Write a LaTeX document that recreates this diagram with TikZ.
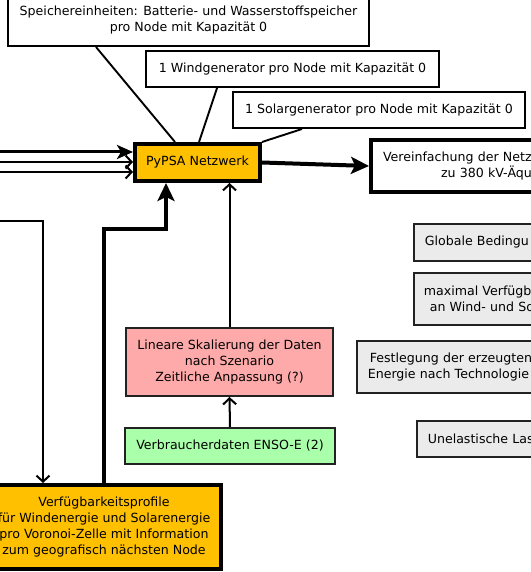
\documentclass[tikz,border=0pt]{standalone}
\usepackage{fontspec}
\setmainfont{DejaVu Sans}
\usetikzlibrary{arrows.meta}
\definecolor{gold}{HTML}{FFC000}
\definecolor{pinkfill}{HTML}{FFAAAA}
\definecolor{greenfill}{HTML}{AAFFAA}
\definecolor{grayfill}{HTML}{EBEBEB}
\definecolor{bordergray}{HTML}{222222}
\begin{document}
\begin{tikzpicture}[x=1pt,y=-1pt,
  font=\fontsize{12.6}{16}\selectfont,
  box/.style={draw=black, line width=1.8pt, inner sep=0pt, align=center, fill=white},
  thickbox/.style={draw=black, line width=4pt, inner sep=0pt, align=center},
  graybox/.style={draw=bordergray, line width=1.8pt, fill=grayfill, inner ysep=0pt, anchor=west, text width=260pt, align=left},
  thinline/.style={line width=1.9pt},
  thinarrow/.style={line width=2pt, -{Straight Barb[length=6pt,width=13pt,line width=2pt]}},
  fatarrow/.style={line width=4pt, -{Stealth[length=18pt,width=17pt,inset=4pt]}},
  medarrow/.style={line width=3pt, -{Stealth[length=16pt,width=14pt,inset=4pt]}}
]
\useasboundingbox (0,0) rectangle (530,572);

% top boxes
\node[box, minimum width=361.2pt, minimum height=51.2pt] (spei) at (188.5,20.5)
  {Speichereinheiten: Batterie- und Wasserstoffspeicher\\pro Node mit Kapazität 0};
\node[box, minimum width=293.2pt, minimum height=36.2pt] (wind) at (292.5,69)
  {1 Windgenerator pro Node mit Kapazität 0};
\node[box, minimum width=292.2pt, minimum height=36.2pt] (solar) at (379,110)
  {1 Solargenerator pro Node mit Kapazität 0};

% central node
\node[thickbox, fill=gold, minimum width=125pt, minimum height=37pt] (py) at (197.5,162.5)
  {PyPSA Netzwerk};

% right, cropped boxes
\node[thickbox, fill=white, anchor=west, minimum height=52pt, inner xsep=12pt, text width=260pt, align=left] (ver) at (369,166)
  {Vereinfachung der Netz\\\hspace*{58pt}zu 380 kV-Äqu};
\node[graybox, minimum height=37.2pt, inner xsep=11pt] (glob) at (412.9,242.5)
  {Globale Bedingu};
\node[graybox, minimum height=52.2pt, inner xsep=10pt] (maxv) at (412.9,299)
  {maximal Verfügb\\\hspace*{6pt}an Wind- und So};
\node[graybox, minimum height=52.2pt, inner xsep=13pt] (fest) at (355.9,367)
  {Festlegung der erzeugten\\\hspace*{-2pt}Energie nach Technologie};
\node[graybox, minimum height=36.2pt, inner xsep=11pt] (unel) at (415.9,439)
  {Unelastische Las};

% lower middle boxes
\node[draw=bordergray, line width=1.8pt, fill=pinkfill, inner sep=0pt, align=center,
  minimum width=207.2pt, minimum height=68.2pt] (lin) at (229.5,362)
  {Lineare Skalierung der Daten\\nach Szenario\\Zeitliche Anpassung (?)};
\node[draw=bordergray, line width=1.8pt, fill=greenfill, inner sep=0pt, align=center,
  minimum width=210.2pt, minimum height=36.2pt] (verb) at (230,446)
  {Verbraucherdaten ENSO-E (2)};

% bottom left box
\node[thickbox, fill=gold, minimum width=234pt, minimum height=84pt] (verf) at (104,527)
  {Verfügbarkeitsprofile\\für Windenergie und Solarenergie\\pro Voronoi-Zelle mit Information\\zum geografisch nächsten Node};

% connectors from top boxes
\draw[thinline] ([xshift=89pt]spei.south west) -- ([xshift=42pt]py.north west);
\draw[thinline] ([xshift=72pt]wind.south west) -- ([xshift=66pt]py.north west);
\draw[thinline] ([xshift=70pt]solar.south west) -- (py.north east);

% PyPSA -> Vereinfachung
\draw[fatarrow] (py.east) -- (ver.west);

% incoming from the left
\coordinate (in1) at (-5,152);
\coordinate (in2) at (-5,162);
\coordinate (in3) at (-5,172);
\coordinate (in4) at (-5,221);
\draw[medarrow] (in1) -- (in1 -| py.west);
\draw[thinarrow] (in2) -- (in2 -| py.west);
\draw[thinarrow] (in3) -- (in3 -| py.west);
\draw[thinarrow] (in4) -| ([xshift=-61pt]verf.north);

% Verfuegbarkeitsprofile -> PyPSA
\draw[fatarrow] (verf.north) |- ([xshift=-31.5pt,yshift=-46pt]py.south) -- ([xshift=-31.5pt]py.south);

% Lineare -> PyPSA
\draw[thinarrow] (lin.north) -- (lin.north |- py.south);
% Verbraucher -> Lineare
\draw[thinarrow] (verb.north) -- (lin.south);
\end{tikzpicture}
\end{document}
